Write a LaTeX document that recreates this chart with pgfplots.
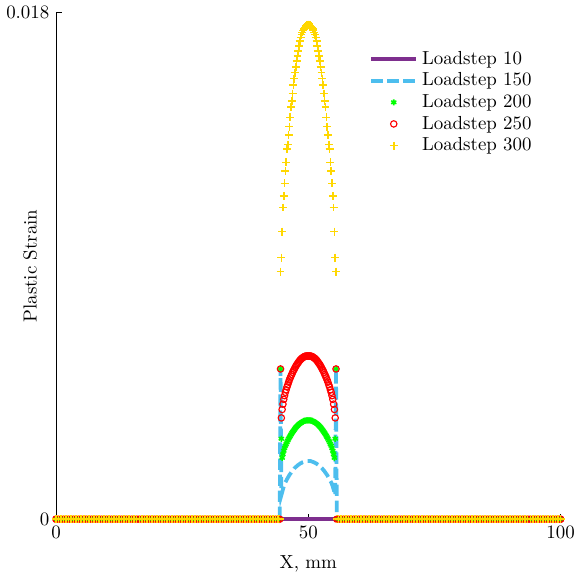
\documentclass[border=0pt]{standalone}
\usepackage{pgfplots}
\usepackage{pgfplotstable}
\pgfplotsset{compat=1.18}
\definecolor{cpurple}{RGB}{126,47,142}
\definecolor{cblue}{RGB}{77,190,238}
\definecolor{cgold}{RGB}{255,215,0}
\pgfplotstableread[row sep=\\]{
x y\\
0 0\\ 0.5 0\\ 1 0\\ 1.5 0\\ 2 0\\ 2.5 0\\ 3 0\\ 3.5 0\\ 4 0\\ 4.5 0\\
5 0\\ 5.5 0\\ 6 0\\ 6.5 0\\ 7 0\\ 7.5 0\\ 8 0\\ 8.5 0\\ 9 0\\ 9.5 0\\
10 0\\ 10.5 0\\ 11 0\\ 11.5 0\\ 12 0\\ 12.5 0\\ 13 0\\ 13.5 0\\ 14 0\\ 14.5 0\\
15 0\\ 15.5 0\\ 16 0\\ 16.5 0\\ 17 0\\ 17.5 0\\ 18 0\\ 18.5 0\\ 19 0\\ 19.5 0\\
20 0\\ 20.5 0\\ 21 0\\ 21.5 0\\ 22 0\\ 22.5 0\\ 23 0\\ 23.5 0\\ 24 0\\ 24.5 0\\
25 0\\ 25.5 0\\ 26 0\\ 26.5 0\\ 27 0\\ 27.5 0\\ 28 0\\ 28.5 0\\ 29 0\\ 29.5 0\\
30 0\\ 30.5 0\\ 31 0\\ 31.5 0\\ 32 0\\ 32.5 0\\ 33 0\\ 33.5 0\\ 34 0\\ 34.5 0\\
35 0\\ 35.5 0\\ 36 0\\ 36.5 0\\ 37 0\\ 37.5 0\\ 38 0\\ 38.5 0\\ 39 0\\ 39.5 0\\
40 0\\ 40.5 0\\ 41 0\\ 41.5 0\\ 42 0\\ 42.5 0\\ 43 0\\ 43.5 0\\ 44 0\\
56 0\\ 56.5 0\\ 57 0\\ 57.5 0\\ 58 0\\ 58.5 0\\ 59 0\\ 59.5 0\\
60 0\\ 60.5 0\\ 61 0\\ 61.5 0\\ 62 0\\ 62.5 0\\ 63 0\\ 63.5 0\\ 64 0\\ 64.5 0\\
65 0\\ 65.5 0\\ 66 0\\ 66.5 0\\ 67 0\\ 67.5 0\\ 68 0\\ 68.5 0\\ 69 0\\ 69.5 0\\
70 0\\ 70.5 0\\ 71 0\\ 71.5 0\\ 72 0\\ 72.5 0\\ 73 0\\ 73.5 0\\ 74 0\\ 74.5 0\\
75 0\\ 75.5 0\\ 76 0\\ 76.5 0\\ 77 0\\ 77.5 0\\ 78 0\\ 78.5 0\\ 79 0\\ 79.5 0\\
80 0\\ 80.5 0\\ 81 0\\ 81.5 0\\ 82 0\\ 82.5 0\\ 83 0\\ 83.5 0\\ 84 0\\ 84.5 0\\
85 0\\ 85.5 0\\ 86 0\\ 86.5 0\\ 87 0\\ 87.5 0\\ 88 0\\ 88.5 0\\ 89 0\\ 89.5 0\\
90 0\\ 90.5 0\\ 91 0\\ 91.5 0\\ 92 0\\ 92.5 0\\ 93 0\\ 93.5 0\\ 94 0\\ 94.5 0\\
95 0\\ 95.5 0\\ 96 0\\ 96.5 0\\ 97 0\\ 97.5 0\\ 98 0\\ 98.5 0\\ 99 0\\ 99.5 0\\
100 0\\
}\base
\pgfplotstableread{
x b g r yl
0 0 0 0 0
44.34 0 0 0 0
44.5 0.00534 0.00534 0.00534 0.00880
44.66 0.00085 0.00286 0.00360 0.00930
44.82 0.00095 0.00218 0.00390 0.01022
44.98 0.00106 0.00231 0.00409 0.01108
45.14 0.00116 0.00243 0.00426 0.01149
45.3 0.00124 0.00253 0.00439 0.01194
45.46 0.00131 0.00261 0.00451 0.01238
45.62 0.00136 0.00267 0.00460 0.01268
45.78 0.00142 0.00274 0.00470 0.01316
45.94 0.00147 0.00280 0.00478 0.01331
46.1 0.00152 0.00286 0.00487 0.01366
46.26 0.00157 0.00291 0.00495 0.01395
46.42 0.00161 0.00296 0.00502 0.01428
46.58 0.00165 0.00301 0.00509 0.01466
46.74 0.00169 0.00306 0.00515 0.01486
46.9 0.00173 0.00310 0.00522 0.01513
47.06 0.00176 0.00314 0.00528 0.01543
47.22 0.00180 0.00318 0.00533 0.01566
47.38 0.00183 0.00322 0.00539 0.01587
47.54 0.00186 0.00326 0.00544 0.01608
47.7 0.00188 0.00329 0.00549 0.01628
47.86 0.00191 0.00332 0.00553 0.01646
48.02 0.00193 0.00335 0.00557 0.01664
48.18 0.00195 0.00338 0.00561 0.01682
48.34 0.00197 0.00340 0.00565 0.01700
48.5 0.00199 0.00342 0.00568 0.01713
48.66 0.00200 0.00344 0.00571 0.01722
48.82 0.00202 0.00346 0.00573 0.01730
48.98 0.00203 0.00347 0.00575 0.01737
49.14 0.00204 0.00349 0.00577 0.01743
49.3 0.00205 0.00350 0.00579 0.01748
49.46 0.00206 0.00350 0.00579 0.01752
49.62 0.00207 0.00351 0.00580 0.01755
49.78 0.00207 0.00351 0.00580 0.01757
49.94 0.00207 0.00351 0.00580 0.01758
50.06 0.00207 0.00351 0.00580 0.01758
50.22 0.00207 0.00351 0.00580 0.01757
50.38 0.00207 0.00351 0.00580 0.01755
50.54 0.00206 0.00350 0.00579 0.01752
50.7 0.00205 0.00350 0.00579 0.01748
50.86 0.00204 0.00349 0.00577 0.01743
51.02 0.00203 0.00347 0.00575 0.01737
51.18 0.00202 0.00346 0.00573 0.01730
51.34 0.00200 0.00344 0.00571 0.01722
51.5 0.00199 0.00342 0.00568 0.01713
51.66 0.00197 0.00340 0.00565 0.01700
51.82 0.00195 0.00338 0.00561 0.01682
51.98 0.00193 0.00335 0.00557 0.01664
52.14 0.00191 0.00332 0.00553 0.01646
52.3 0.00188 0.00329 0.00549 0.01628
52.46 0.00186 0.00326 0.00544 0.01608
52.62 0.00183 0.00322 0.00539 0.01587
52.78 0.00180 0.00318 0.00533 0.01566
52.94 0.00176 0.00314 0.00528 0.01543
53.1 0.00173 0.00310 0.00522 0.01513
53.26 0.00169 0.00306 0.00515 0.01486
53.42 0.00165 0.00301 0.00509 0.01466
53.58 0.00161 0.00296 0.00502 0.01428
53.74 0.00157 0.00291 0.00495 0.01395
53.9 0.00152 0.00286 0.00487 0.01366
54.06 0.00147 0.00280 0.00478 0.01331
54.22 0.00142 0.00274 0.00470 0.01316
54.38 0.00136 0.00267 0.00460 0.01268
54.54 0.00131 0.00261 0.00451 0.01238
54.7 0.00124 0.00253 0.00439 0.01194
54.86 0.00116 0.00243 0.00426 0.01149
55.02 0.00106 0.00231 0.00409 0.01108
55.18 0.00095 0.00218 0.00390 0.01022
55.34 0.00085 0.00286 0.00360 0.00930
55.5 0.00534 0.00534 0.00534 0.00880
55.66 0 0 0 0
100 0 0 0 0
}\zone
\begin{document}
\begin{tikzpicture}
\begin{axis}[
  scale only axis,
  width=267pt, height=268pt,
  xmin=0, xmax=100, ymin=0, ymax=0.018,
  axis lines*=left,
  clip=false,
  xtick={0,50,100},
  ytick={0,0.018},
  yticklabels={0,0.018},
  scaled y ticks=false,
  major tick length=3pt,
  tick style={black, thin},
  xlabel={X, mm},
  ylabel={Plastic Strain},
  xlabel style={at={(axis description cs:0.5,-0.089)}, anchor=center},
  ylabel style={at={(axis description cs:-0.051,0.5)}, anchor=center},
  legend style={draw=none, fill=none, at={(0.962,0.94)}, anchor=north east, legend cell align=left, row sep=-1pt},
  legend image code/.code={\draw[mark repeat=2,mark phase=2,#1] plot coordinates {(0cm,0cm) (0.42cm,0cm) (0.84cm,0cm)};},
]
\addplot[color=cpurple, line width=2pt] coordinates {(0,0) (100,0)};
\addlegendentry{Loadstep 10}
\addplot[color=cblue, line width=2pt, dash pattern=on 6pt off 2.5pt] table[x=x, y=b] \zone;
\addlegendentry{Loadstep 150}
\addplot[color=green, only marks, mark=asterisk, mark size=1.6pt, mark options={line width=0.8pt}] table[x=x, y=g] \zone;
\addlegendentry{Loadstep 200}
\addplot[color=red, only marks, mark=o, mark size=1.7pt, mark options={line width=0.6pt}] table[x=x, y=r] \zone;
\addlegendentry{Loadstep 250}
\addplot[color=cgold, only marks, mark=+, mark size=2.1pt, mark options={line width=0.8pt}] table[x=x, y=yl] \zone;
\addlegendentry{Loadstep 300}
\addplot[color=green, only marks, mark=asterisk, mark size=1.6pt, mark options={line width=0.8pt}, forget plot] table[x=x, y=y] \base;
\addplot[color=red, only marks, mark=o, mark size=1.7pt, mark options={line width=0.6pt}, forget plot] table[x=x, y=y] \base;
\addplot[color=cgold, only marks, mark=+, mark size=2.1pt, mark options={line width=0.8pt}, forget plot] table[x=x, y=y] \base;
\end{axis}
\end{tikzpicture}
\end{document}
